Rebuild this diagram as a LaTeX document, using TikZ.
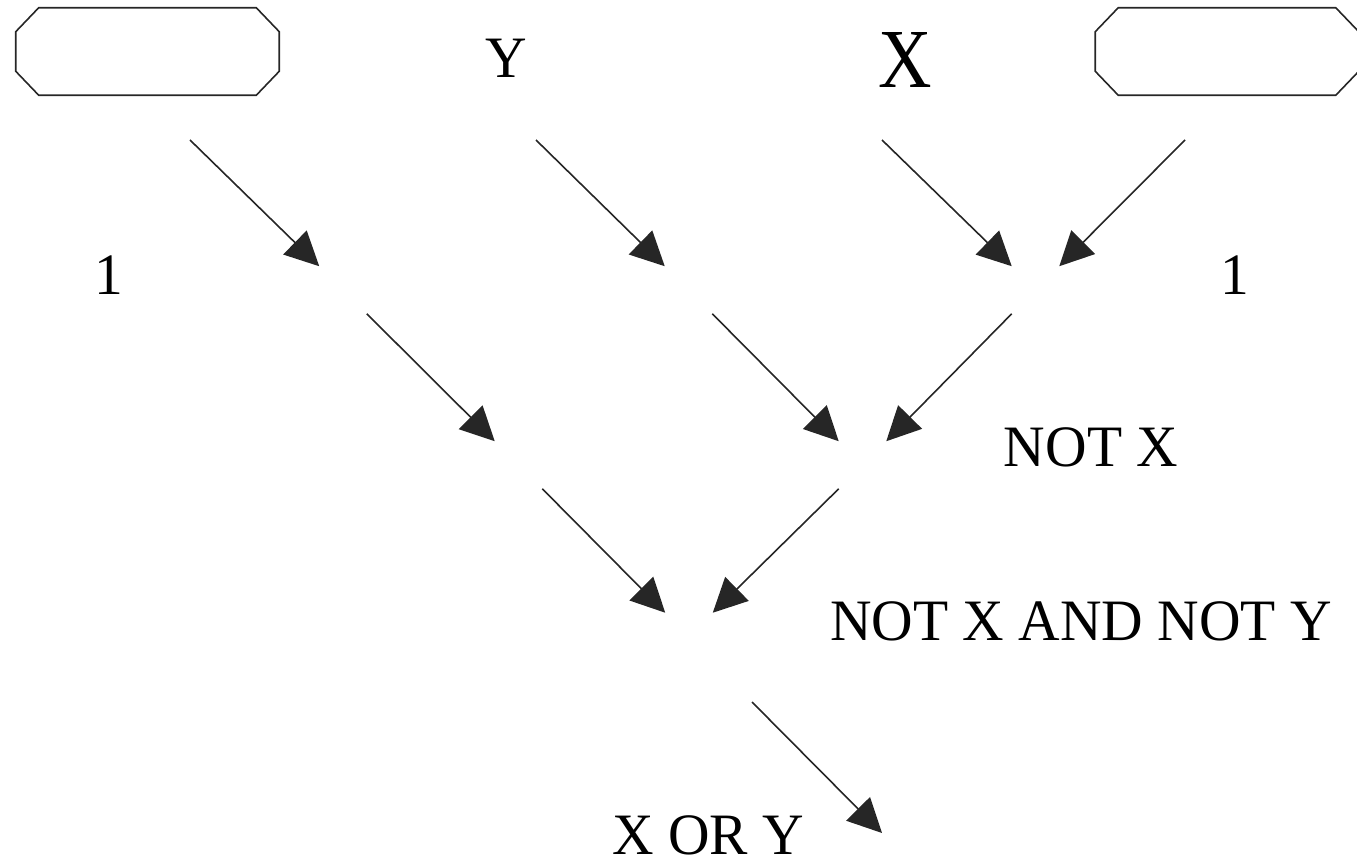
\documentclass[tikz,border=0pt]{standalone}
\usepackage{fontspec}
\setmainfont[FakeStretch=0.98]{Liberation Serif}
\usetikzlibrary{arrows.meta}
\tikzset{
  inbox/.style={inner sep=0pt,minimum width=197.25pt,minimum height=65.25pt},
  boxline/.style={draw=black!85,line width=1.2pt},
  gate/.style={inner sep=0pt,minimum width=35.25pt,minimum height=35.25pt},
  lbl/.style={anchor=base,inner sep=0pt,font=\fontsize{44}{48}\selectfont},
  wire/.style={-{Triangle[length=25.5pt,width=25pt]},draw=black!85,fill=black,line width=1.2pt}
}

\begin{document}
\begin{tikzpicture}[x=0.75pt,y=-0.75pt]
  \useasboundingbox (0,0) rectangle (1357,862);
  % inputs
  \node[inbox] (inA) at (147.5,51.5) {};
  \node[inbox] (inB) at (1227,51.5) {};
  \foreach \b in {inA,inB}
    \draw[boxline] ([xshift=17.25pt]\b.north west) -- ([xshift=-17.25pt]\b.north east)
      -- ([yshift=-18pt]\b.north east) -- ([yshift=18pt]\b.south east)
      -- ([xshift=-17.25pt]\b.south east) -- ([xshift=17.25pt]\b.south west)
      -- ([yshift=18pt]\b.south west) -- ([yshift=-18pt]\b.north west) -- cycle;
  \node[lbl] (y) at (506,78) {Y};
  \node[lbl,font=\fontsize{63}{66}\selectfont] (x) at (905,88) {\scalebox{0.9}[1]{X}};
  \node[lbl] (oneA) at (109,295) {1};
  \node[lbl] (oneB) at (1235,295) {1};
  % junctions
  \node[gate] (g1) at (343,290) {};
  \node[gate] (g2) at (688.5,290) {};
  \node[gate] (g3) at (1035.5,290) {};
  \node[gate] (g4) at (518.5,465) {};
  \node[gate] (g5) at (862.5,465) {};
  \node[gate] (g6) at (689,636.5) {};
  % outputs
  \node[lbl] (notx) at (1091,467) {NOT X};
  \node[lbl] (nxny) at (1081,641) {NOT X AND NOT Y};
  \node[lbl] (xory) at (708,854) {X OR Y};
  % wire ends
  \coordinate (t1) at (190,140);
  \coordinate (t2) at (536,140);
  \coordinate (t3) at (882,140);
  \coordinate (t4) at (1185,140);
  \coordinate (t10) at (752,702);
  \coordinate (h10) at (882,833);
  \draw[wire] (t1) -- (g1.north west);
  \draw[wire] (t2) -- (g2.north west);
  \draw[wire] (t3) -- (g3.north west);
  \draw[wire] (t4) -- (g3.north east);
  \draw[wire] (g1.south east) -- (g4.north west);
  \draw[wire] (g2.south east) -- (g5.north west);
  \draw[wire] (g3.south west) -- (g5.north east);
  \draw[wire] (g4.south east) -- (g6.north west);
  \draw[wire] (g5.south west) -- (g6.north east);
  \draw[wire] (t10) -- (h10);
\end{tikzpicture}
\end{document}
